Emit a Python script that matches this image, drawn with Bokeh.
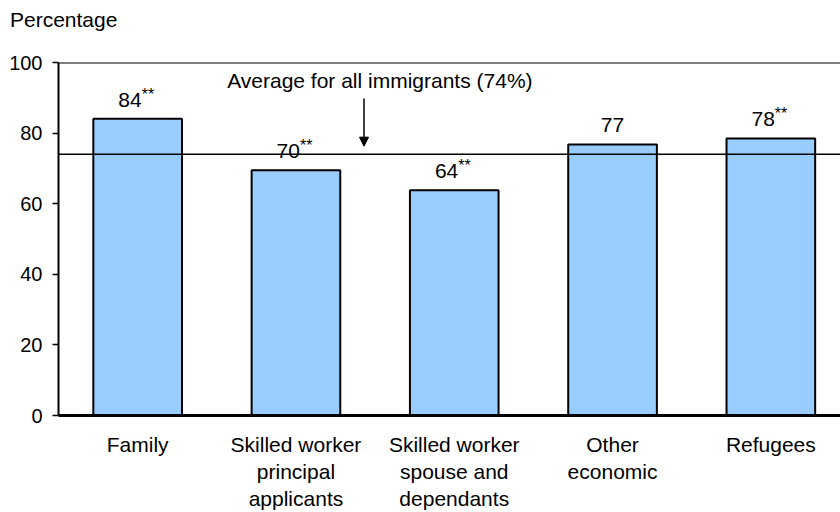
from bokeh.plotting import figure
from bokeh.layouts import column
from bokeh.models import (ColumnDataSource, Range1d, FixedTicker, Span, Arrow,
                          NormalHead, Label, Div)
from bokeh.core.properties import value
from bokeh.embed import file_html
from bokeh.resources import INLINE

categories = ["Family", "Skilled worker\nprincipal\napplicants",
              "Skilled worker\nspouse and\ndependants", "Other\neconomic", "Refugees"]
values = [84.1, 69.5, 63.8, 76.8, 78.5]
value_labels = ["84", "70", "64", "77", "78"]
stars = ["**", "**", "**", "", "**"]
average = 74
average_label = "Average for all immigrants (74%)"
y_title = "Percentage"
y_ticks = [0, 20, 40, 60, 80, 100]

FONT = "Liberation Sans"
xs = [i + 0.5 for i in range(len(categories))]

p = figure(width=840, height=472, output_backend="svg", toolbar_location=None,
           x_range=Range1d(0, 4.94), y_range=Range1d(0, 100),
           min_border_left=58, min_border_right=0, min_border_bottom=0,
           min_border_top=22)
p.outline_line_color = None
p.background_fill_color = "white"
p.border_fill_color = "white"
p.xgrid.visible = False
p.ygrid.visible = False

src = ColumnDataSource(dict(x=xs, top=values, lab=value_labels, st=stars))
p.vbar(x="x", top="top", width=0.56, bottom=0, source=src,
       fill_color="#99CCFF", line_color="black", line_width=2)

# average line and top border
p.add_layout(Span(location=average, dimension="width", line_color="black", line_width=1.5))
p.add_layout(Span(location=100, dimension="width", line_color="black", line_width=2))

# value labels
starred = ColumnDataSource(dict(x=[x for x, s in zip(xs, stars) if s],
                                top=[v for v, s in zip(values, stars) if s],
                                lab=[l for l, s in zip(value_labels, stars) if s],
                                st=[s for s in stars if s]))
plain = ColumnDataSource(dict(x=[x for x, s in zip(xs, stars) if not s],
                              top=[v for v, s in zip(values, stars) if not s],
                              lab=[l for l, s in zip(value_labels, stars) if not s]))
p.text(x="x", y="top", text="lab", source=starred, text_align="right",
       text_baseline="bottom", x_offset=4, y_offset=-12, text_font=value(FONT),
       text_font_size="21px", text_color="black")
p.text(x="x", y="top", text="st", source=starred, text_align="left",
       text_baseline="bottom", x_offset=4, y_offset=-16, text_font=value(FONT),
       text_font_size="16px", text_color="black")
p.text(x="x", y="top", text="lab", source=plain, text_align="center",
       text_baseline="bottom", y_offset=-12, text_font=value(FONT),
       text_font_size="21px", text_color="black")

# average annotation
p.add_layout(Label(x=2.03, y=95, text=average_label, text_align="center",
                   text_baseline="middle", text_font=FONT, text_font_size="21px",
                   text_color="black"))
p.add_layout(Arrow(x_start=1.93, y_start=89.8, x_end=1.93, y_end=76.3,
                   line_color="black", line_width=1.5,
                   end=NormalHead(size=9, fill_color="black", line_color="black")))

# axes
p.yaxis.ticker = FixedTicker(ticks=y_ticks)
p.yaxis.axis_line_width = 2
p.yaxis.axis_line_color = "black"
p.yaxis.major_tick_out = 6
p.yaxis.major_tick_in = 0
p.yaxis.minor_tick_line_color = None
p.yaxis.major_tick_line_width = 1.5
p.yaxis.major_label_text_font = FONT
p.yaxis.major_label_text_font_size = "20px"
p.yaxis.major_label_text_color = "black"
p.yaxis.major_label_standoff = 10

p.xaxis.ticker = FixedTicker(ticks=xs)
p.xaxis.major_label_overrides = {x: c for x, c in zip(xs, categories)}
p.xaxis.axis_line_width = 3
p.xaxis.axis_line_color = "black"
p.xaxis.major_tick_line_color = None
p.xaxis.minor_tick_line_color = None
p.xaxis.major_label_text_font = FONT
p.xaxis.major_label_text_font_size = "21px"
p.xaxis.major_label_text_color = "black"
p.xaxis.major_label_standoff = 11
p.xaxis.major_label_text_line_height = 1.18

# "Percentage" heading above the y axis
heading = Div(text=y_title, width=840, height=40, margin=0,
              styles={"font-family": FONT, "font-size": "21px", "color": "black",
                      "line-height": "40px", "padding-left": "10px",
                      "background": "white"})

layout = column(heading, p, spacing=0, margin=0)

open("out.html", "w").write(file_html(layout, INLINE))
